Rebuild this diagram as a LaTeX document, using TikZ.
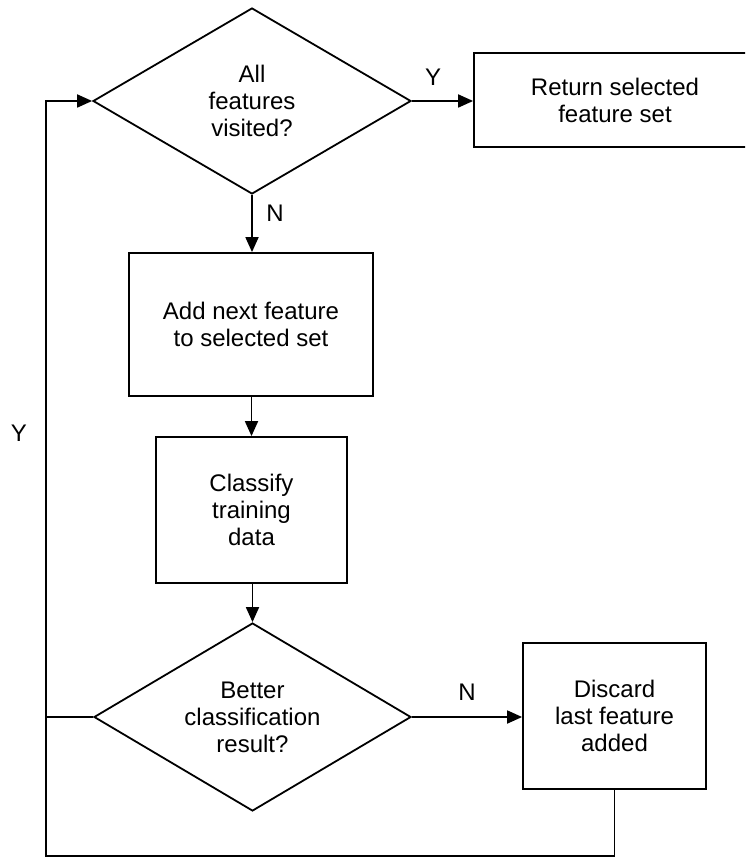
\documentclass[tikz,border=0pt]{standalone}
\usepackage{fontspec}
\setmainfont{Liberation Sans}
\usetikzlibrary{arrows.meta,shapes.geometric}

\tikzset{
  every node/.style={font=\fontsize{24}{27}\selectfont, align=center, inner sep=0pt},
  stepbox/.style={draw, line width=1.8pt, rectangle},
  decision/.style={draw, line width=1.8pt, diamond, aspect=1.7},
  flow/.style={line width=1.8pt, -{Triangle[length=15pt,width=13pt]}},
  plainline/.style={line width=1.8pt},
  branch/.style={font=\fontsize{24}{27}\selectfont}
}

\begin{document}
\begin{tikzpicture}[x=1pt, y=-1pt]
  \clip (0,0) rectangle (745,858);
  \fill[white] (0,0) rectangle (745,858);

  % decisions and process steps
  \node[decision, minimum width=318pt, minimum height=186pt] (visited) at (252,101) {All\\features\\visited?};
  \node[stepbox, minimum width=282pt, minimum height=94pt] (ret) at (615,100) {Return selected\\feature set};
  \node[stepbox, minimum width=244pt, minimum height=143pt] (add) at (251,324.5) {Add next feature\\to selected set};
  \node[stepbox, minimum width=191pt, minimum height=146pt] (cls) at (251.5,510) {Classify\\training\\data};
  \node[decision, minimum width=317pt, minimum height=188pt] (better) at (252.5,717) {Better\\classification\\result?};
  \node[stepbox, minimum width=183pt, minimum height=146pt] (disc) at (614.5,716) {Discard\\last feature\\added};

  % loop-back corners
  \coordinate (c1) at (614.5,856);
  \coordinate (c2) at (46,856);
  \coordinate (c3) at (46,101);
  \coordinate (c4) at (46,717);

  % connectors
  \draw[flow] (visited.east) -- (visited.east -| ret.west);
  \draw[flow] (visited.south) -- (visited.south |- add.north);
  \draw[flow] (add.south -| cls.north) -- (cls.north);
  \draw[flow] (cls.south) -- (cls.south -| better.north) -- (better.north);
  \draw[flow] (better.east) -- (better.east -| disc.west);
  \draw[plainline] (better.west) -- (c4);
  \draw[flow] (disc.south) -- (c1) -- (c2) -- (c3) -- (visited.west);

  % branch labels
  \node[branch] (ly1) at (433,77) {Y};
  \node[branch] (ln1) at (275,213) {N};
  \node[branch] (ln2) at (467,692) {N};
  \node[branch] (ly2) at (19,433) {Y};
\end{tikzpicture}
\end{document}
